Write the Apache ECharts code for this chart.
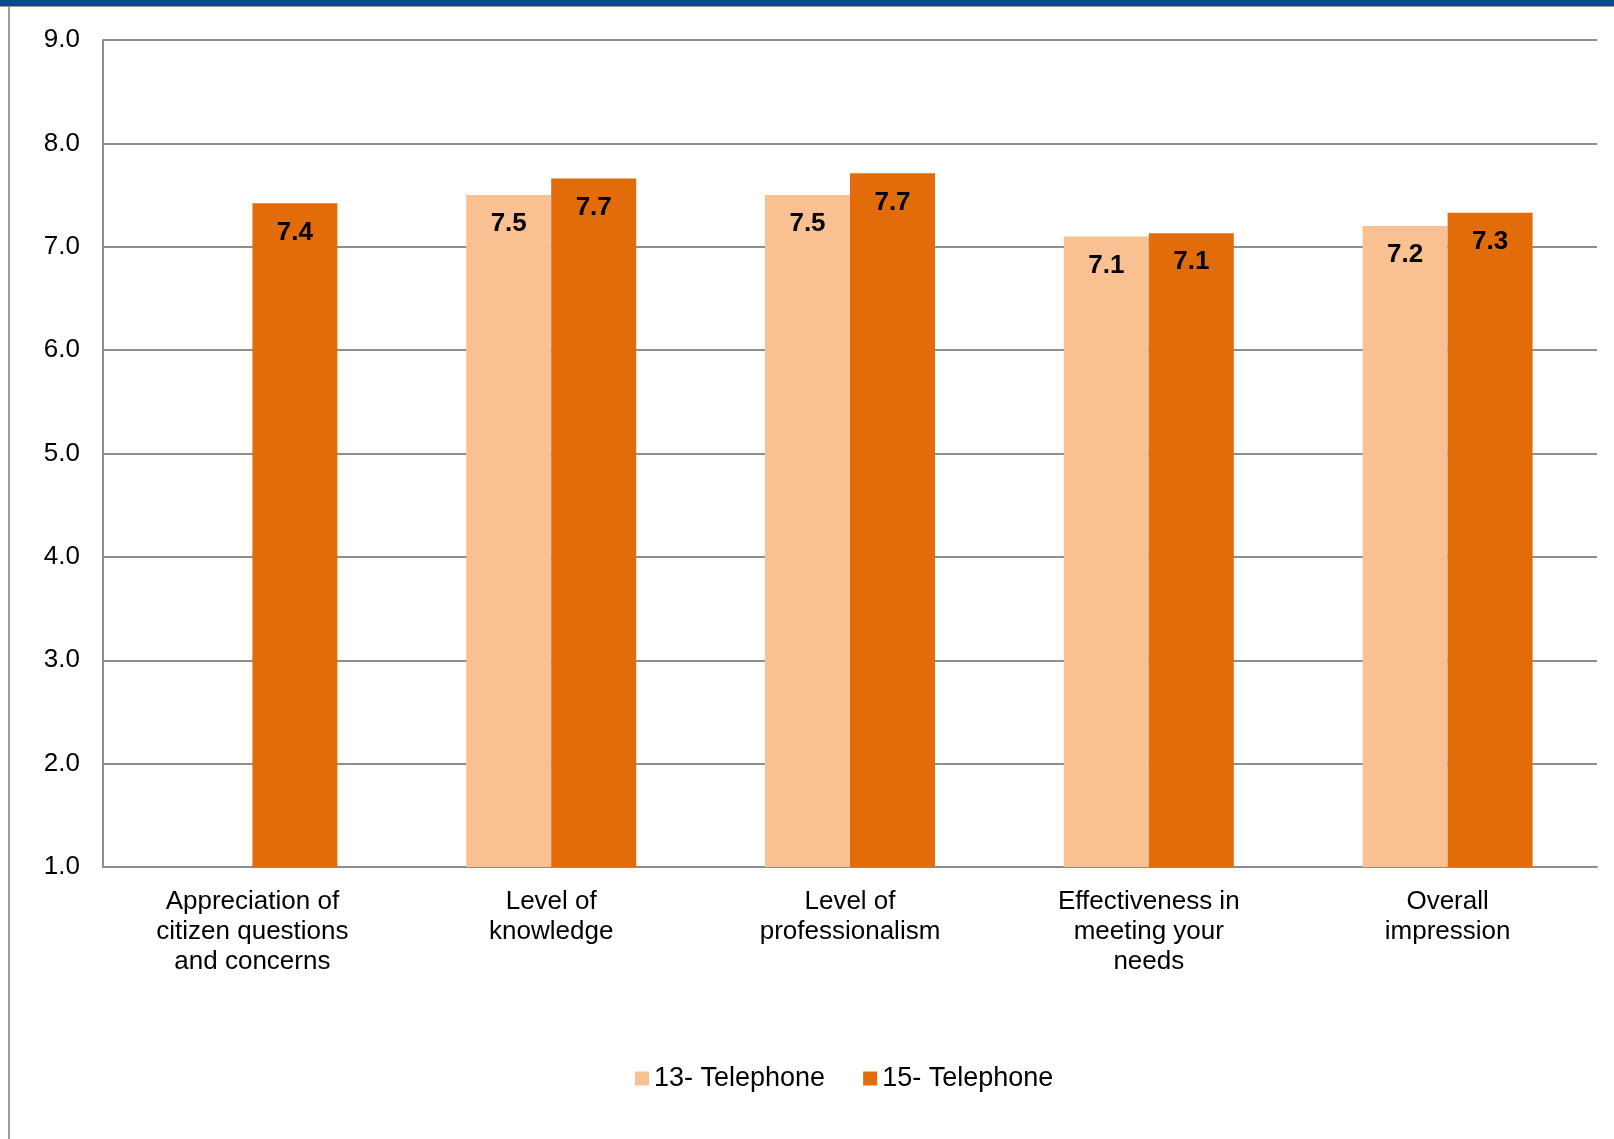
<!DOCTYPE html>
<html>
<head>
<meta charset="utf-8">
<script src="https://cdn.jsdelivr.net/npm/echarts@6/dist/echarts.min.js"></script>
<style>
  html, body { margin: 0; padding: 0; background: #fff; }
  #chart { width: 1614px; height: 1139px; }
</style>
</head>
<body>
<div id="chart"></div>
<script>
const categories = [
  'Appreciation of\ncitizen questions\nand concerns',
  'Level of\nknowledge',
  'Level of\nprofessionalism',
  'Effectiveness in\nmeeting your\nneeds',
  'Overall\nimpression'
]
const seriesNames = ['13- Telephone', '15- Telephone']
const tel13 = [null, 7.50, 7.50, 7.10, 7.20]
const tel15 = [7.42, 7.66, 7.71, 7.13, 7.33]
const yTicks = [1, 9, 1] // min, max, step

const colorList = ['#F9C191', '#E36C0A']
const font = '"Liberation Sans", Arial, sans-serif'

const labelStyle = {
  show: true,
  position: 'insideTop',
  distance: 16,
  color: '#000',
  fontSize: 26,
  fontWeight: 'bold',
  fontFamily: font,
  formatter: p => p.value == null ? '' : Number(p.value).toFixed(1)
}

let option = {
  backgroundColor: '#fff',
  animation: false,
  textStyle: { fontFamily: font },
  graphic: [
    // top band and left frame line of the slide
    { type: 'rect', shape: { x: 0, y: 0, width: 1614, height: 6 }, style: { fill: '#0B4A87' } },
    { type: 'rect', shape: { x: 0, y: 6, width: 1614, height: 1 }, style: { fill: '#9a9a9a' } },
    { type: 'rect', shape: { x: 8, y: 6, width: 2, height: 1133 }, style: { fill: '#9a9a9a' } }
  ],
  legend: {
    left: 630,
    top: 1060,
    itemWidth: 14,
    itemHeight: 14,
    itemGap: 38,
    icon: 'rect',
    textStyle: { fontSize: 27, color: '#000', fontFamily: font },
    data: seriesNames
  },
  grid: {
    left: 103,
    right: 17,
    top: 40,
    bottom: 272
  },
  xAxis: {
    type: 'category',
    data: categories,
    axisLine: { show: true, lineStyle: { color: '#8E8E8E', width: 2 } },
    axisTick: { show: false },
    axisLabel: {
      color: '#000',
      fontSize: 26,
      lineHeight: 30,
      margin: 20,
      interval: 0,
      fontFamily: font
    },
    splitLine: { show: false }
  },
  yAxis: {
    type: 'value',
    min: yTicks[0],
    max: yTicks[1],
    interval: yTicks[2],
    axisLine: { show: true, lineStyle: { color: '#8E8E8E', width: 2 } },
    axisTick: { show: false },
    axisLabel: {
      color: '#000',
      fontSize: 26,
      margin: 23,
      fontFamily: font,
      formatter: v => v.toFixed(1)
    },
    splitLine: { show: true, lineStyle: { color: '#8E8E8E', width: 2 } }
  },
  series: [
    {
      name: seriesNames[0],
      type: 'bar',
      barWidth: 85,
      barGap: '0%',
      itemStyle: { color: colorList[0] },
      label: labelStyle,
      data: tel13
    },
    {
      name: seriesNames[1],
      type: 'bar',
      barWidth: 85,
      barGap: '0%',
      itemStyle: { color: colorList[1] },
      label: labelStyle,
      data: tel15
    }
  ]
}

const chart = echarts.init(document.getElementById('chart'))
chart.setOption(option)
</script>
</body>
</html>
